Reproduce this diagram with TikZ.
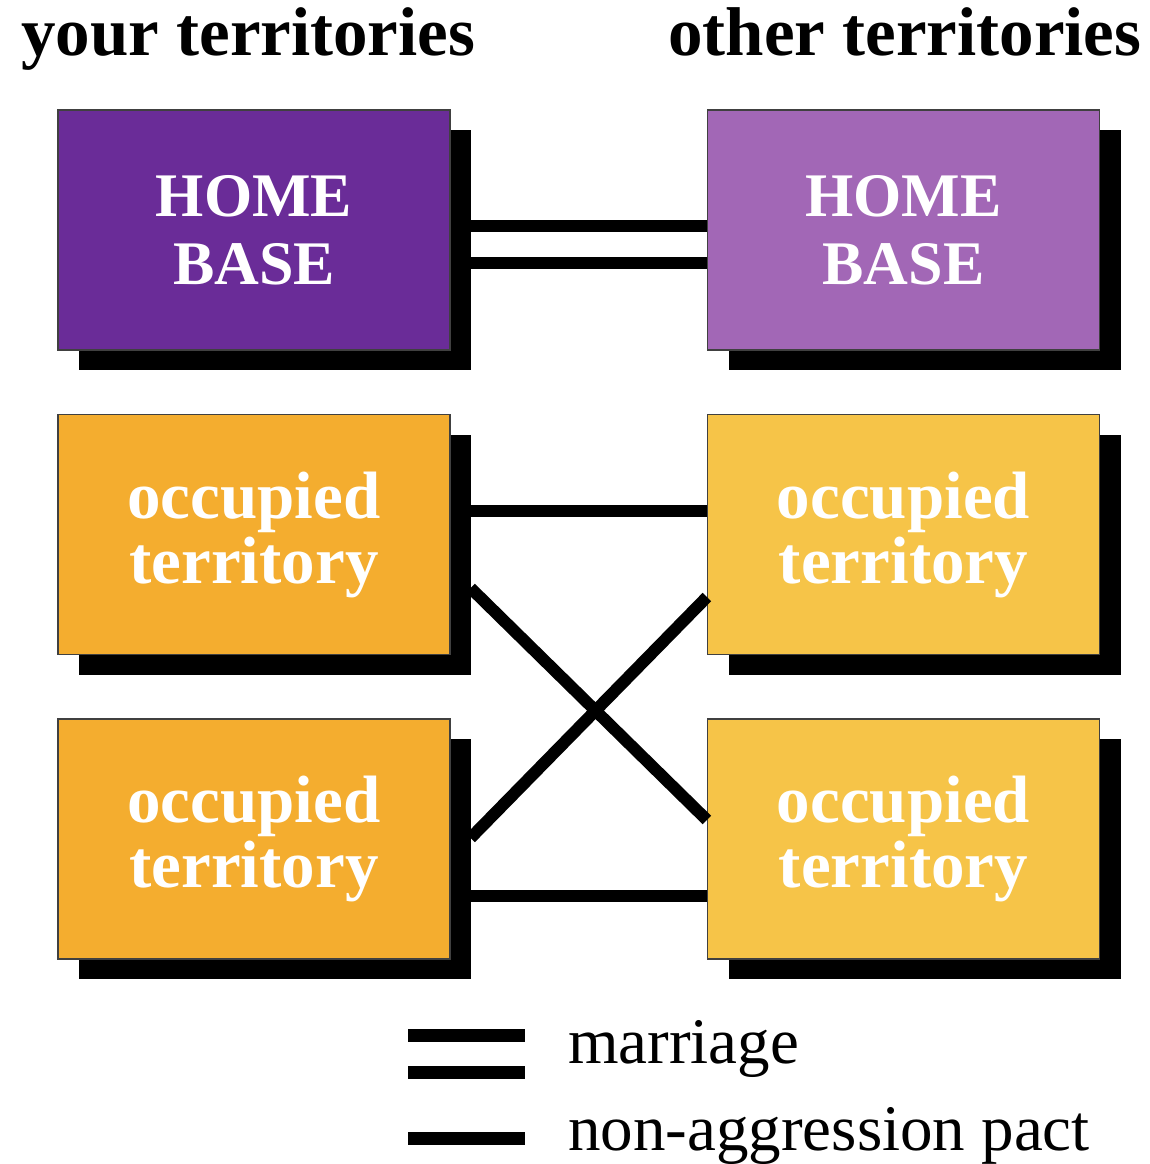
\documentclass[tikz,border=0pt]{standalone}
\usepackage{fontspec}
\setmainfont{Liberation Serif}
\usetikzlibrary{shadows}
\definecolor{purpleA}{HTML}{6A2C98}
\definecolor{purpleB}{HTML}{A267B6}
\definecolor{orangeA}{HTML}{F4AD2F}
\definecolor{orangeB}{HTML}{F6C448}
\tikzset{
  terrbox/.style={rectangle, minimum width=392pt, minimum height=240pt, inner sep=0pt,
    draw=black!75, line width=1.2pt, text=white, align=center,
    drop shadow={shadow xshift=21pt, shadow yshift=-20pt, opacity=1, fill=black}},
  homefont/.style={font=\fontsize{62}{68}\selectfont\bfseries},
  occfont/.style={font=\fontsize{67}{65}\selectfont\bfseries},
  header/.style={anchor=base west, inner sep=0pt, font=\fontsize{69}{69}\selectfont\bfseries},
  legtext/.style={anchor=base west, inner sep=0pt, font=\fontsize{65}{65}\selectfont},
  link/.style={line width=12pt, black},
}
\begin{document}
\begin{tikzpicture}[x=1pt, y=-1pt]
\useasboundingbox (0,0) rectangle (1150,1164);
\fill[white] (0,0) rectangle (1150,1164);

\node[header] (hL) at (21,56) {your territories};
\node[header] (hR) at (668,56) {other territories};

\node[terrbox, homefont, fill=purpleA] (hbL) at (254,230) {HOME\\BASE};
\node[terrbox, homefont, fill=purpleB] (hbR) at (903.5,230) {HOME\\BASE};
\node[terrbox, occfont, fill=orangeA] (o1L) at (254,534.5) {occupied\\territory};
\node[terrbox, occfont, fill=orangeB] (o1R) at (903.5,534.5) {occupied\\territory};
\node[terrbox, occfont, fill=orangeA] (o2L) at (254,839) {occupied\\territory};
\node[terrbox, occfont, fill=orangeB] (o2R) at (903.5,839) {occupied\\territory};

% marriage
\draw[link] ([xshift=20pt, yshift=4.5pt]hbL.east) -- ([yshift=4.5pt]hbR.west);
\draw[link] ([xshift=20pt, yshift=-32.5pt]hbL.east) -- ([yshift=-32.5pt]hbR.west);
% non-aggression pacts
\draw[link] ([xshift=20pt, yshift=23.5pt]o1L.east) -- ([yshift=23.5pt]o1R.west);
\draw[link] ([xshift=20pt, yshift=-57pt]o2L.east) -- ([yshift=-57pt]o2R.west);
\draw[link] ([xshift=20pt, yshift=-53.5pt]o1L.east) -- ([yshift=19pt]o2R.west);
\draw[link] ([xshift=20pt, yshift=1pt]o2L.east) -- ([yshift=-62.5pt]o1R.west);

% legend
\coordinate (m1a) at (408,1035);
\coordinate (m1b) at (525,1035);
\coordinate (m2a) at (408,1072.5);
\coordinate (m2b) at (525,1072.5);
\coordinate (pa) at (408,1138.5);
\coordinate (pb) at (525,1138.5);
\draw[link, line width=13pt] (m1a) -- (m1b);
\draw[link, line width=13pt] (m2a) -- (m2b);
\draw[link, line width=13pt] (pa) -- (pb);
\node[legtext] (lm) at (568,1063) {marriage};
\node[legtext] (lp) at (568,1150) {non-aggression pact};
\end{tikzpicture}
\end{document}
